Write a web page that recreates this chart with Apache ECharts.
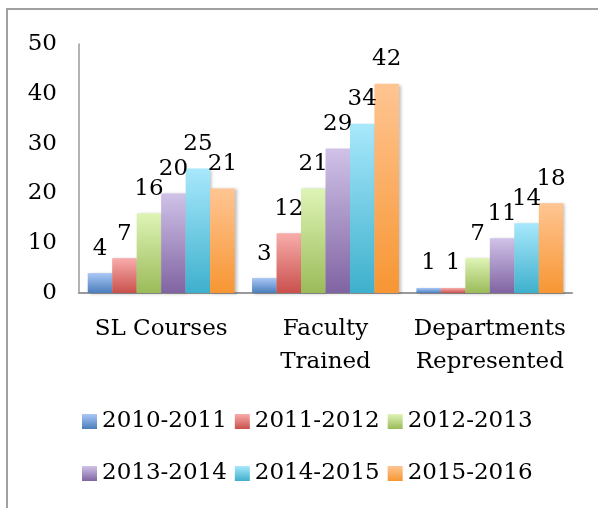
<!DOCTYPE html>
<html><head><meta charset="utf-8">
<script src="https://cdn.jsdelivr.net/npm/echarts@6/dist/echarts.min.js"></script>
<style>html,body{margin:0;padding:0;background:#fff}#c{width:598px;height:508px}</style>
</head><body><div id="c"></div>
<script>
const categories = ["SL Courses", "Faculty\nTrained", "Departments\nRepresented"];
const seriesNames = ["2010-2011", "2011-2012", "2012-2013", "2013-2014", "2014-2015", "2015-2016"];
const s2010 = [4, 3, 1];
const s2011 = [7, 12, 1];
const s2012 = [16, 21, 7];
const s2013 = [20, 29, 11];
const s2014 = [25, 34, 14];
const s2015 = [21, 42, 18];
const yTicks = [0, 10, 20, 30, 40, 50];

const values = [s2010, s2011, s2012, s2013, s2014, s2015];
const grads = [
  ["#aac7f6", "#4a7ebb"],
  ["#f8adab", "#c9504c"],
  ["#def4b6", "#9bbb59"],
  ["#d0c2e8", "#8064a2"],
  ["#a8e8fc", "#3eb0cc"],
  ["#ffc592", "#f79633"]
];
const FONT = "DejaVu Serif";
const FS = 23;
function grad(c){return new echarts.graphic.LinearGradient(0,0,0,1,[{offset:0,color:c[0]},{offset:1,color:c[1]}]);}
const chart = echarts.init(document.getElementById('c'), null, {renderer:'canvas'});
const series = seriesNames.map((n,i)=>({
  name:n, type:'bar', data:values[i], barGap:'0%', barCategoryGap:'10.6%',
  itemStyle:{color:grad(grads[i]), shadowColor:'rgba(0,0,0,0.25)', shadowBlur:3, shadowOffsetX:2, shadowOffsetY:1},
  label:{show:true, position:'top', distance:13, fontFamily:FONT, fontSize:FS, color:'#000'}
}));
const legendCommon = {
  left:82, padding:0, itemWidth:15, itemHeight:15, itemGap:8, icon:'rect',
  textStyle:{fontFamily:FONT, fontSize:FS, color:'#000', width:128}
};
chart.setOption({
  animation:false,
  grid:{left:79, right:26, top:44, bottom:215, containLabel:false},
  legend:[
    Object.assign({top:410, data:seriesNames.slice(0,3)}, legendCommon),
    Object.assign({top:462, data:seriesNames.slice(3,6)}, legendCommon)
  ],
  xAxis:{type:'category', data:categories,
    axisLine:{lineStyle:{color:'#999', width:2}}, axisTick:{show:false},
    axisLabel:{fontFamily:FONT, fontSize:FS, color:'#000', margin:20, lineHeight:33, interval:0}},
  yAxis:{type:'value', min:yTicks[0], max:yTicks[yTicks.length-1], interval:10,
    splitLine:{show:false}, axisTick:{show:false},
    axisLine:{show:true, lineStyle:{color:'#999', width:1.5}},
    axisLabel:{fontFamily:FONT, fontSize:FS, color:'#000', margin:22}},
  graphic:[{type:'rect', shape:{x:7, y:9, width:800, height:800}, style:{fill:'none', stroke:'#a0a0a0', lineWidth:2}, silent:true, z:-10}],
  series:series
});
</script></body></html>
